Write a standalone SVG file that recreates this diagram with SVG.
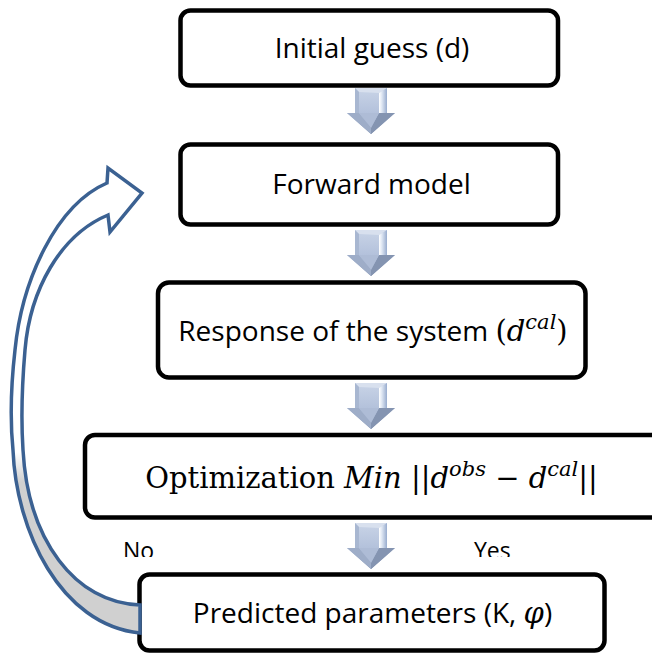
<svg xmlns="http://www.w3.org/2000/svg" width="652" height="654" viewBox="0 0 652 654">
  <style>
    .box { fill: #ffffff; stroke: #000000; stroke-width: 4.5; }
    .lbl { font-family: "Open Sans", "Liberation Sans", sans-serif; font-size: 28px; fill: #000000; }
    .math { font-family: "DejaVu Serif", "Liberation Serif", serif; font-size: 29px; }
    .it { font-style: italic; }
    .sup { font-family: "DejaVu Serif", "Liberation Serif", serif; font-style: italic; font-size: 21px; }
    .branch { font-family: "Open Sans", "Liberation Sans", sans-serif; font-size: 23px; fill: #000000; }
    .loop { stroke: #3b6192; stroke-width: 3.5; stroke-linejoin: miter; }
  </style>
  <defs>
    <linearGradient id="arrowBody" x1="0" y1="0" x2="0" y2="1">
      <stop offset="0" stop-color="#c9d4e7"/>
      <stop offset="0.55" stop-color="#b3c1db"/>
      <stop offset="1" stop-color="#7a8ba8"/>
    </linearGradient>
    <linearGradient id="arrowEdge" x1="0" y1="0" x2="1" y2="0">
      <stop offset="0" stop-color="#ffffff"/>
      <stop offset="0.35" stop-color="#dfe7f3"/>
      <stop offset="1" stop-color="#98acce"/>
    </linearGradient>
    <linearGradient id="ribbonFill" gradientUnits="userSpaceOnUse" x1="0" y1="452" x2="0" y2="482">
      <stop offset="0" stop-color="#ffffff"/>
      <stop offset="1" stop-color="#d0d0d0"/>
    </linearGradient>
    <clipPath id="branchClip">
      <rect x="0" y="0" width="652" height="557"/>
    </clipPath>
    <!-- bevelled block arrow pointing down, origin at top centre -->
    <g id="downArrow">
      <polygon points="-16,0 16,0 16,25 24,25 0,46 -24,25 -16,25" fill="url(#arrowBody)"/>
      <polygon points="-16,0 16,0 8,5 -12,4" fill="#d8e0ee"/>
      <polygon points="-16,0 -12,4 -12,25 -16,25" fill="#a8b7d1"/>
      <polygon points="16,0 8,5 8,25 16,25" fill="url(#arrowEdge)"/>
      <polygon points="-24,25 -12,25 0,40 0,46" fill="#9eadc8"/>
      <polygon points="8,25 24,25 0,46 0,40" fill="#8494b1"/>
      <polygon points="-12,25 8,25 0,40" fill="#aebcd6"/>
    </g>
  </defs>

  <rect width="652" height="654" fill="#ffffff"/>

  <!-- process steps -->
  <g id="node-initial-guess">
    <rect class="box" x="180.5" y="10.5" width="377.5" height="75" rx="10"/>
    <text class="lbl" x="372" y="57.5" text-anchor="middle">Initial guess (d)</text>
  </g>

  <g id="node-forward-model">
    <rect class="box" x="180.5" y="144.5" width="377.5" height="80" rx="10"/>
    <text class="lbl" x="371.5" y="194" text-anchor="middle">Forward model</text>
  </g>

  <g id="node-response">
    <rect class="box" x="158" y="282.5" width="427.5" height="95" rx="11"/>
    <text class="lbl" x="373" y="341" text-anchor="middle">Response of the system <tspan class="math">(</tspan><tspan class="math it">d</tspan><tspan class="sup" dy="-12">cal</tspan><tspan class="math" dy="12">)</tspan></text>
  </g>

  <g id="node-optimization">
    <rect class="box" x="85" y="435" width="620" height="82.5" rx="10"/>
    <text class="math" x="371.5" y="488" text-anchor="middle">Optimization <tspan class="it">Min</tspan> ||<tspan class="it">d</tspan><tspan class="sup" dy="-12">obs</tspan><tspan dy="12"> − </tspan><tspan class="it">d</tspan><tspan class="sup" dy="-12">cal</tspan><tspan dy="12">||</tspan></text>
  </g>

  <g id="node-predicted">
    <rect class="box" x="139.5" y="574.5" width="465" height="76" rx="10"/>
    <text class="lbl" x="372.5" y="623" text-anchor="middle">Predicted parameters (K, <tspan class="math it">φ</tspan>)</text>
  </g>

  <!-- connectors -->
  <g id="connectors">
    <use href="#downArrow" x="371" y="88"/>
    <use href="#downArrow" x="371" y="230"/>
    <use href="#downArrow" x="371" y="383"/>
    <use href="#downArrow" x="371" y="523"/>

    <!-- curved feedback arrow back to the forward model -->
    <path class="loop" fill="url(#ribbonFill)"
          d="M 107,183 C 56,205 22,280 15,350 C 11,385 10,420 13,450 C 16,530 60,625 140,633 L 140,605 C 75,603 28,540 23,450 C 21,420 22,385 25,350 C 30,290 60,235 108,215 L 110,232 L 142,193 L 108,168 Z"/>

    <g clip-path="url(#branchClip)">
      <text class="branch" x="123" y="559">No</text>
      <text class="branch" x="474" y="559">Yes</text>
    </g>
  </g>
</svg>
